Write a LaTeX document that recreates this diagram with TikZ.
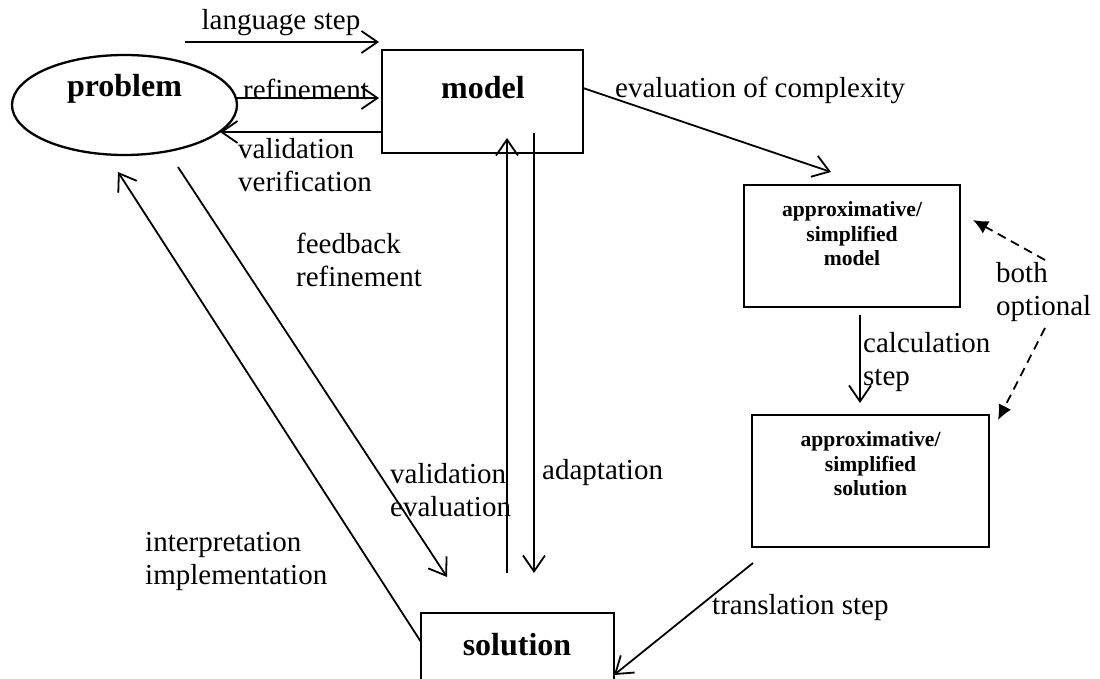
\documentclass[tikz,border=0pt]{standalone}
\usepackage{fontspec}
\setmainfont{Liberation Serif}
\usetikzlibrary{arrows.meta,shapes.geometric}

\tikzset{
    box/.style={draw, line width=2.7pt, inner sep=0pt},
    arr/.style={line width=1.8pt, -{Straight Barb[length=16pt,width=22pt]}},
    optarr/.style={line width=1.8pt, dash pattern=on 9pt off 6pt, -{Latex[length=15pt,width=14pt]}},
    lbl/.style={font=\fontsize{29}{33}\selectfont, inner sep=0pt, align=left},
    bigbold/.style={font=\fontsize{32}{36}\selectfont\bfseries, inner sep=0pt},
    smallbold/.style={font=\fontsize{21.6}{24.5}\selectfont\bfseries, inner sep=0pt, align=center},
}

\begin{document}
\begin{tikzpicture}[x=1pt,y=-1pt]

    \useasboundingbox (0,0) rectangle (1100,679);

    % Main shapes: problem, model, solution
    \node[draw, ellipse, line width=2.3pt, minimum width=225pt, minimum height=100pt] (problem) at (124.5,105) {};
    \node[bigbold] (problemtxt) at (124.5,89) {problem};

    \node[box, minimum width=201pt, minimum height=103pt] (model) at (482.5,101.5) {};
    \node[bigbold] (modeltxt) at (483,88) {model};

    \node[box, minimum width=193pt, minimum height=90pt] (solution) at (517.5,658) {};
    \node[bigbold] (solutiontxt) at (517,645) {solution};

    % Approximative boxes on the right
    \node[box, minimum width=216pt, minimum height=122pt] (apxmodel) at (852,246) {};
    \node[smallbold] (apxmodeltxt) at (852,234) {approximative/\\simplified\\model};

    \node[box, minimum width=237pt, minimum height=132pt] (apxsol) at (870.5,481) {};
    \node[smallbold] (apxsoltxt) at (870.5,464) {approximative/\\simplified\\solution};

    % Free ends of the connectors
    \coordinate (langA) at (185,42);
    \coordinate (langB) at (379,42);
    \coordinate (refA) at (236,98);
    \coordinate (refB) at (379,98);
    \coordinate (valA) at (382,132);
    \coordinate (valB) at (220,132);
    \coordinate (evalA) at (583,88);
    \coordinate (evalB) at (831,172);
    \coordinate (fbA) at (178,167);
    \coordinate (fbB) at (447,577);
    \coordinate (intA) at (421,642);
    \coordinate (intB) at (118,172);
    \coordinate (upA) at (507,573);
    \coordinate (upB) at (507,138);
    \coordinate (downA) at (534,133);
    \coordinate (downB) at (534,573);
    \coordinate (calcA) at (860,315);
    \coordinate (calcB) at (860,403);
    \coordinate (optA) at (1045,260);
    \coordinate (optB) at (973,220);
    \coordinate (optC) at (1045,328);
    \coordinate (optD) at (998,420);
    \coordinate (transA) at (753,563);
    \coordinate (transB) at (614,675);

    % Arrows between problem and model
    \draw[arr] (langA) -- (langB);
    \node[lbl] (langtxt) at (281,23) {language step};
    \draw[arr] (refA) -- (refB);
    \node[lbl] (reftxt) at (306,89) {refinement};
    \draw[arr] (valA) -- (valB);
    \node[lbl, anchor=west] (valtxt) at (238,165) {validation\\verification};

    % Model to the approximative side
    \draw[arr] (evalA) -- (evalB);
    \node[lbl, anchor=west] (evaltxt) at (615,90) {evaluation of complexity};
    \draw[arr] (calcA) -- (calcB);
    \node[lbl, anchor=west] (calctxt) at (863,362) {calculation\\step};
    \draw[optarr] (optA) -- (optB);
    \draw[optarr] (optC) -- (optD);
    \node[lbl, anchor=west] (opttxt) at (996,292) {both\\optional};
    \draw[arr] (transA) -- (transB);
    \node[lbl, anchor=west] (transtxt) at (712,608) {translation step};

    % Problem and solution
    \draw[arr] (fbA) -- (fbB);
    \node[lbl, anchor=west] (fbtxt) at (296,260) {feedback\\refinement};
    \draw[arr] (intA) -- (intB);
    \node[lbl, anchor=west] (inttxt) at (145,561) {interpretation\\implementation};

    % Model and solution
    \draw[arr] (upA) -- (upB);
    \node[lbl, anchor=west] (upvaltxt) at (390,490) {validation\\evaluation};
    \draw[arr] (downA) -- (downB);
    \node[lbl, anchor=west] (adapttxt) at (542,473) {adaptation};

\end{tikzpicture}
\end{document}
